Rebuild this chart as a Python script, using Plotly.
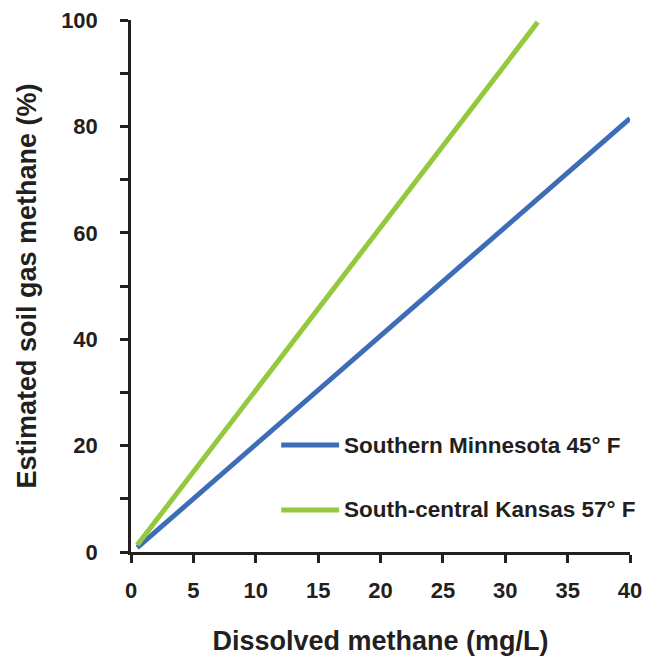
import plotly.graph_objects as go

# Data
series_names = ["Southern Minnesota 45° F", "South-central Kansas 57° F"]
mn_x = [0.5, 40.0]
mn_y = [0.8, 81.5]
ks_x = [0.5, 32.6]
ks_y = [1.3, 99.6]
x_ticks = [0, 5, 10, 15, 20, 25, 30, 35, 40]
y_ticks = [0, 20, 40, 60, 80, 100]

BLUE = "#3E6DB8"
GREEN = "#94C93D"
INK = "#231F20"
FONT = "Liberation Sans, Arial, sans-serif"

fig = go.Figure()
fig.add_trace(go.Scatter(x=mn_x, y=mn_y, mode="lines", name=series_names[0],
                         line=dict(color=BLUE, width=5), showlegend=False))
fig.add_trace(go.Scatter(x=ks_x, y=ks_y, mode="lines", name=series_names[1],
                         line=dict(color=GREEN, width=5), showlegend=False))

# custom legend (long line samples as in the reference)
leg = [(series_names[0], BLUE, 0.201), (series_names[1], GREEN, 0.079)]
for name, col, yy in leg:
    fig.add_shape(type="line", xref="paper", yref="paper", x0=0.301, x1=0.417,
                  y0=yy, y1=yy, line=dict(color=col, width=5))
    fig.add_annotation(text="<b>%s</b>" % name, xref="paper", yref="paper",
                       x=0.423, y=yy, xanchor="left", yanchor="middle",
                       showarrow=False, font=dict(family=FONT, size=22.5, color=INK))

fig.update_layout(
    width=654, height=662,
    margin=dict(l=131, r=24, t=20, b=110, autoexpand=False),
    paper_bgcolor="white", plot_bgcolor="white",
    font=dict(family=FONT, color=INK),
    xaxis=dict(range=[0, 40], tickvals=x_ticks, ticks="outside", ticklen=8, tickwidth=2.5,
               tickcolor=INK, showline=True, linecolor=INK, linewidth=2.5,
               showgrid=False, zeroline=False, automargin=False,
               tickfont=dict(family=FONT, size=22, color=INK, weight="bold"),
               ticklabelstandoff=9,
               title=dict(text="<b>Dissolved methane (mg/L)</b>", standoff=29,
                          font=dict(family=FONT, size=27, color=INK))),
    yaxis=dict(range=[0, 100], tickvals=y_ticks, ticks="outside", ticklen=8, tickwidth=2.5,
               tickcolor=INK, showline=True, linecolor=INK, linewidth=2.5,
               showgrid=False, zeroline=False, automargin=False,
               minor=dict(dtick=10, tick0=0, ticks="outside", ticklen=8, tickwidth=2.5,
                          tickcolor=INK, showgrid=False),
               tickfont=dict(family=FONT, size=22, color=INK, weight="bold"),
               ticklabelstandoff=18,
               title=dict(text="<b>Estimated soil gas methane (%)</b>", standoff=17,
                          font=dict(family=FONT, size=27, color=INK))),
)

fig.write_html("out.html", config={"displayModeBar": False},
               post_script="document.body.style.margin='0';document.body.style.overflow='hidden';")
